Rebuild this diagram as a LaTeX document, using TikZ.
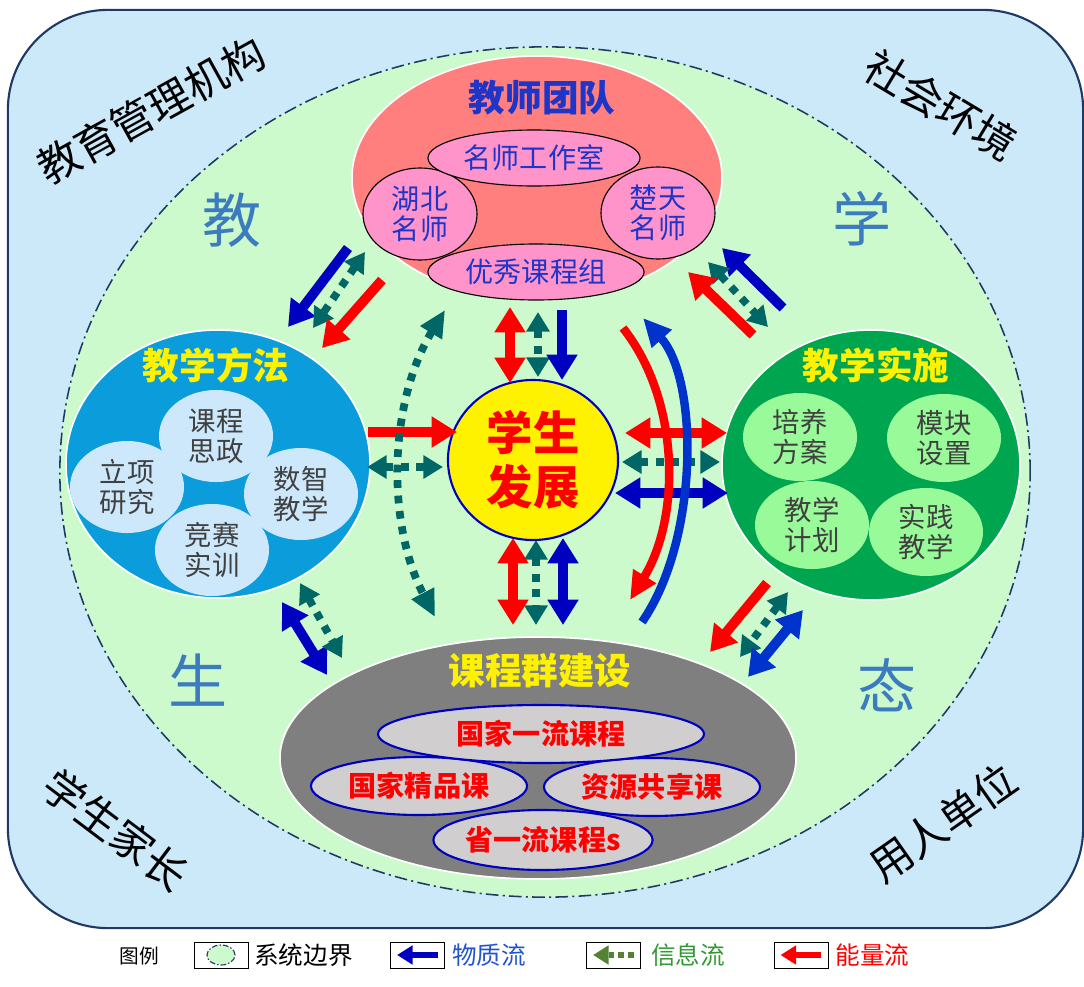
\documentclass[tikz,border=0pt]{standalone}
\usepackage{fontspec}
\setmainfont{Noto Sans CJK SC}
\usepackage{xcolor}
\usetikzlibrary{calc}
\usetikzlibrary{positioning}
\usetikzlibrary{shapes.geometric}
\usetikzlibrary{arrows.meta}

\definecolor{bgblue}{HTML}{CCE9FA}
\definecolor{navy}{HTML}{1F3864}
\definecolor{sysgreen}{HTML}{CCFACC}
\definecolor{teamred}{HTML}{FF7F7F}
\definecolor{teampink}{HTML}{FF94CA}
\definecolor{teamblue}{HTML}{1F35C8}
\definecolor{methodblue}{HTML}{0A9CDB}
\definecolor{lightblue}{HTML}{CCE8FA}
\definecolor{implgreen}{HTML}{00A54F}
\definecolor{lightgreen}{HTML}{99FA99}
\definecolor{darktext}{HTML}{404040}
\definecolor{coursegray}{HTML}{7F7F7F}
\definecolor{lightgray}{HTML}{D0CECE}
\definecolor{ringblue}{HTML}{0000C0}
\definecolor{bigblue}{HTML}{3C7CBE}
\definecolor{matblue}{HTML}{0000C0}
\definecolor{curveblue}{HTML}{0033CC}
\definecolor{infoteal}{HTML}{006666}
\definecolor{engred}{HTML}{FF0000}
\definecolor{leggreen}{HTML}{548235}
\definecolor{leggreentext}{HTML}{339933}
\definecolor{legbluetext}{HTML}{2255CC}

\tikzset{
    oval/.style 2 args={ellipse, minimum width=#1*0.05cm, minimum height=#2*0.05cm, inner sep=0pt, align=center},
    container/.style={draw=white, line width=1.2pt},
    heading/.style={font=\bfseries\fontsize{26}{28}\selectfont},
    corner/.style={font=\fontsize{30}{30}\selectfont},
    bigchar/.style={text=bigblue, font=\fontsize{42}{42}\selectfont},
    teammember/.style={fill=teampink, draw=black, line width=0.8pt, text=teamblue, font=\fontsize{20}{21}\selectfont},
    methodpart/.style={oval={57}{46}, fill=lightblue, text=darktext, font=\fontsize{19.5}{21.5}\selectfont},
    implpart/.style={oval={57}{44}, fill=lightgreen, text=darktext, font=\fontsize{19.5}{21.5}\selectfont},
    coursepart/.style={fill=lightgray, draw=ringblue, line width=1.5pt, text=engred, font=\bfseries\fontsize{20}{22}\selectfont},
    matflow/.style={draw=matblue, line width=7pt, -{Triangle[width=21pt,length=18pt]}},
    matboth/.style={draw=matblue, line width=7pt, {Triangle[width=21pt,length=18pt]}-{Triangle[width=21pt,length=18pt]}},
    engflow/.style={draw=engred, line width=7pt, -{Triangle[width=21pt,length=18pt]}},
    engboth/.style={draw=engred, line width=7pt, {Triangle[width=21pt,length=18pt]}-{Triangle[width=21pt,length=18pt]}},
    infoboth/.style={draw=infoteal, line width=5.5pt, dash pattern=on 5.5pt off 5.5pt, {Triangle[width=16pt,length=14pt]}-{Triangle[width=16pt,length=14pt]}},
    legbox/.style={draw=black, line width=0.6pt, fill=white, minimum width=1.35cm, minimum height=0.65cm, inner sep=0pt},
    legtext/.style={font=\fontsize{17.5}{18}\selectfont, inner sep=0pt}
}

\begin{document}
\begin{tikzpicture}[x=0.025cm, y=-0.025cm]
    \useasboundingbox (0,0) rectangle (1084,986);

    % environment and system boundary
    \node [rectangle, rounded corners=2.5cm, minimum width=26.875cm, minimum height=22.95cm, draw=navy, line width=1.5pt, fill=bgblue] (env) at (545.5,469) {};
    \node [oval={485}{425}, fill=sysgreen, draw=navy, line width=1.1pt, dash pattern=on 9pt off 3pt on 1.5pt off 3pt] (sys) at (545,472) {};

    \node [corner, rotate=29] (admin) at (151,110) {教育管理机构};
    \node [corner, rotate=-31] (society) at (941,105) {社会环境};
    \node [corner, rotate=-37] (parents) at (116,830) {学生家长};
    \node [corner, rotate=35] (employer) at (943,823) {用人单位};

    \node [bigchar] (eco1) at (232,220) {教};
    \node [bigchar] (eco2) at (862,219) {学};
    \node [bigchar] (eco3) at (198,680) {生};
    \node [bigchar] (eco4) at (887,685) {态};

    % teacher team
    \node [container, oval={185}{122}, fill=teamred] (team) at (537,178) {};
    \node [heading, text=teamblue] (teamtitle) at (542,98) {教师团队};
    \node [teammember, oval={57}{46}] (hubei) at (420,214) {湖北\\名师};
    \node [teammember, oval={57}{46}] (chutian) at (658,213) {楚天\\名师};
    \node [teammember, oval={106}{28}] (studio) at (534,158) {名师工作室};
    \node [teammember, oval={108}{28}] (group) at (536,272) {优秀课程组};

    % teaching methods
    \node [container, oval={152}{134}, fill=methodblue] (method) at (218,464) {};
    \node [heading, text=yellow] (methodtitle) at (216,365) {教学方法};
    \node [methodpart] (sizheng) at (216,436) {课程\\思政};
    \node [methodpart] (research) at (127,487) {立项\\研究};
    \node [methodpart] (digital) at (301,494) {数智\\教学};
    \node [methodpart] (contest) at (212,550) {竞赛\\实训};

    % teaching practice
    \node [container, oval={149}{135}, fill=implgreen] (impl) at (871,465) {};
    \node [heading, text=yellow] (impltitle) at (876,365) {教学实施};
    \node [implpart] (plan) at (800,437) {培养\\方案};
    \node [implpart] (module) at (944,438) {模块\\设置};
    \node [implpart] (schedule) at (812,525) {教学\\计划};
    \node [implpart] (practice) at (926,532) {实践\\教学};

    % course group
    \node [container, oval={258}{121}, fill=coursegray] (course) at (538,758) {};
    \node [heading, text=yellow] (coursetitle) at (540,671) {课程群建设};
    \node [coursepart, oval={108}{29}] (quality) at (419,786) {国家精品课};
    \node [coursepart, oval={108}{29}] (shared) at (652,787) {资源共享课};
    \node [coursepart, oval={163}{29}] (national) at (541,734) {国家一流课程};
    \node [coursepart, oval={107}{30}] (province) at (543,840) {省一流课程s};

    % student
    \node [oval={85}{80}, fill=yellow, draw=ringblue, line width=1.5pt, text=engred, font=\bfseries\fontsize{33}{38}\selectfont] (stu) at (533,460) {学生\\发展};

    % flows team <-> method
    \draw [matflow] ($(team)+(-189,70)$) -- ($(team)+(-249,149)$);
    \draw [infoboth] ($(team)+(-172,74)$) -- ($(team)+(-224,150)$);
    \draw [engflow] ($(team)+(-155,102)$) -- ($(team)+(-215,170)$);
    % flows team <-> impl
    \draw [matflow] ($(team)+(246,130)$) -- ($(team)+(185,70)$);
    \draw [infoboth] ($(team)+(171,84)$) -- ($(team)+(231,149)$);
    \draw [engflow] ($(team)+(216,157)$) -- ($(team)+(151,94)$);
    % flows team <-> student
    \draw [engboth] ($(stu)+(-23,-153)$) -- ($(stu)+(-23,-77)$);
    \draw [infoboth] ($(stu)+(5,-148)$) -- ($(stu)+(5,-83)$);
    \draw [matflow] ($(stu)+(29,-150)$) -- ($(stu)+(29,-80)$);
    % flows method <-> student
    \draw [engflow] ($(stu)+(-165,-28)$) -- ($(stu)+(-76,-28)$);
    \draw [infoboth] ($(stu)+(-166,7)$) -- ($(stu)+(-90,7)$);
    % flows student <-> impl
    \draw [engboth] ($(stu)+(92,-27)$) -- ($(stu)+(194,-27)$);
    \draw [infoboth] ($(stu)+(89,2)$) -- ($(stu)+(187,2)$);
    \draw [matboth] ($(stu)+(82,33)$) -- ($(stu)+(195,33)$);
    % flows student <-> course
    \draw [engboth] ($(stu)+(-20,78)$) -- ($(stu)+(-20,165)$);
    \draw [infoboth] ($(stu)+(3,80)$) -- ($(stu)+(3,165)$);
    \draw [matboth] ($(stu)+(30,78)$) -- ($(stu)+(30,165)$);
    % flows method <-> course
    \draw [matboth] ($(course)+(-256,-156)$) -- ($(course)+(-211,-83)$);
    \draw [infoboth] ($(course)+(-238,-175)$) -- ($(course)+(-196,-100)$);
    % flows impl <-> course
    \draw [engflow] ($(course)+(229,-175)$) -- ($(course)+(172,-106)$);
    \draw [infoboth] ($(course)+(250,-166)$) -- ($(course)+(202,-101)$);
    \draw [matboth, draw=curveblue] ($(course)+(265,-148)$) -- ($(course)+(210,-81)$);

    % long curved flows
    \draw [infoboth, {Triangle[width=17pt,length=19pt]}-{Triangle[width=17pt,length=19pt]}] ($(stu)+(-88,-150)$) .. controls ($(stu)+(-143,-60)$) and ($(stu)+(-148,60)$) .. ($(stu)+(-98,157)$);
    \draw [engred, line width=6pt, -{Triangle[width=18pt,length=20pt]}] ($(stu)+(90,-132)$) .. controls ($(stu)+(147,-60)$) and ($(stu)+(148,57)$) .. ($(stu)+(97,140)$);
    \draw [curveblue, line width=6pt, -{Triangle[width=18pt,length=20pt]}] ($(stu)+(109,162)$) .. controls ($(stu)+(166,80)$) and ($(stu)+(166,-80)$) .. ($(stu)+(110,-142)$);

    % legend
    \node [font=\fontsize{14}{14}\selectfont] (legend) at (139,956) {图例};
    \node [legbox] (lb1) at (221,955) {};
    \node [oval={14}{10}, fill=sysgreen, draw=navy, line width=0.8pt, dash pattern=on 4pt off 1.5pt on 1pt off 1.5pt] (lbsys) at (lb1) {};
    \node [legtext, right=4pt of lb1] (lt1) {系统边界};
    \node [legbox] (lb2) at (417.5,955) {};
    \draw [matblue, line width=4.5pt, -{Triangle[width=13pt,length=11pt]}] ($(lb2.east)+(-7,0)$) -- ($(lb2.west)+(7,0)$);
    \node [legtext, right=5pt of lb2, text=legbluetext] (lt2) {物质流};
    \node [legbox] (lb3) at (613.5,955) {};
    \draw [leggreen, line width=4.5pt, dash pattern=on 4pt off 3pt, -{Triangle[width=13pt,length=11pt]}] ($(lb3.east)+(-7,0)$) -- ($(lb3.west)+(7,0)$);
    \node [legtext, right=7pt of lb3, text=leggreentext] (lt3) {信息流};
    \node [legbox] (lb4) at (801,955) {};
    \draw [engred, line width=4.5pt, -{Triangle[width=13pt,length=11pt]}] ($(lb4.east)+(-7,0)$) -- ($(lb4.west)+(7,0)$);
    \node [legtext, right=5pt of lb4, text=engred] (lt4) {能量流};
\end{tikzpicture}
\end{document}
